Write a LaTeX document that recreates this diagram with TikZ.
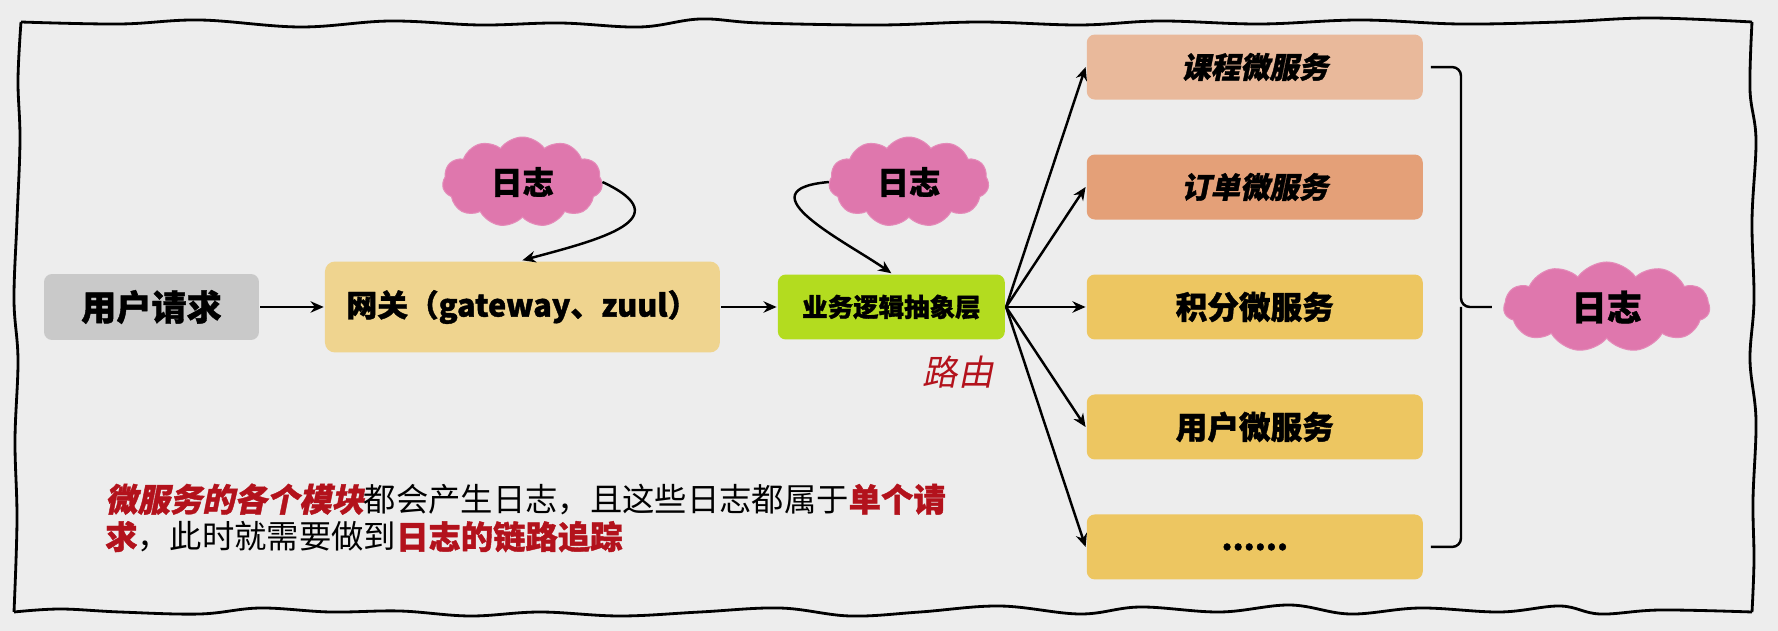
\documentclass[tikz,border=0pt]{standalone}
\usepackage{fontspec}
\setmainfont{Noto Sans CJK SC}[BoldFeatures={FakeBold=1.2}]
\newfontfamily\slantcjk{Noto Sans CJK SC}[FakeSlant=0.2, BoldFeatures={FakeBold=1.2}]
\usepackage{xcolor}
\usepackage{tikz}
\usetikzlibrary{shapes.symbols, positioning, arrows.meta, calc}

\definecolor{bgpaper}{HTML}{EDEDED}
\definecolor{reqgray}{HTML}{C9C9C9}
\definecolor{gwyellow}{HTML}{EFD48F}
\definecolor{bizgreen}{HTML}{B3DC1F}
\definecolor{coursepeach}{HTML}{E9B99B}
\definecolor{orderorange}{HTML}{E4A078}
\definecolor{svcyellow}{HTML}{EDC661}
\definecolor{logpink}{HTML}{DF77AD}
\definecolor{notered}{HTML}{B3121C}

\begin{document}
\begin{tikzpicture}[x=0.02cm, y=0.02cm, node distance=2cm, >={Stealth[length=7.5pt, width=6.5pt]}, line width=1.4pt, text=black,
    boxnode/.style={rectangle, rounded corners=0.16cm, minimum height=1.3cm},
    svc/.style={boxnode, fill=svcyellow, minimum width=6.72cm, font=\fontsize{18}{22}\selectfont\bfseries},
    logcloud/.style={cloud, cloud puffs=11, cloud puff arc=110, aspect=1.8, fill=logpink, draw=logpink!85!white, line width=0.6pt, minimum width=3.2cm, minimum height=1.8cm, font=\fontsize{18}{22}\selectfont\bfseries}]

        % Fondo y marco
        \fill[bgpaper] (0,0) rectangle (1778,-631);
        \useasboundingbox (0,0) rectangle (1778,-631);
        \draw[line width=1.6pt] plot[smooth, tension=0.6] coordinates {(21,-22) (120,-24) (200,-20) (300,-27) (390,-21) (480,-25) (560,-23) (640,-27) (700,-19) (760,-23) (880,-25) (980,-22) (1080,-25) (1160,-21) (1260,-24) (1360,-20) (1460,-24) (1560,-22) (1650,-18) (1752,-22)};
        \draw[line width=1.6pt] plot[smooth, tension=0.6] coordinates {(1752,-22) (1750,-90) (1756,-140) (1752,-220) (1754,-300) (1750,-360) (1756,-420) (1753,-500) (1754,-560) (1752,-612)};
        \draw[line width=1.6pt] plot[smooth, tension=0.6] coordinates {(1752,-612) (1660,-610) (1600,-614) (1560,-606) (1500,-612) (1420,-608) (1350,-614) (1290,-605) (1220,-612) (1140,-607) (1080,-614) (1000,-606) (920,-612) (850,-616) (780,-608) (700,-612) (620,-616) (540,-612) (470,-616) (400,-611) (330,-612) (260,-608) (200,-614) (120,-612) (60,-609) (14,-612)};
        \draw[line width=1.6pt] plot[smooth, tension=0.6] coordinates {(14,-612) (17,-520) (15,-440) (18,-360) (14,-300) (17,-220) (20,-140) (18,-80) (21,-22)};

        % Peticion, gateway y capa de negocio
        \node[boxnode, fill=reqgray, minimum height=1.32cm, minimum width=4.3cm, font=\fontsize{20}{24}\selectfont\bfseries] (req) at (151.5,-307) {用户请求};
        \node[boxnode, rounded corners=0.2cm, fill=gwyellow, minimum height=1.82cm, minimum width=7.9cm, right of=req, node distance=7.42cm, font=\fontsize{17.5}{21}\selectfont\bfseries] (gw) {网关（gateway、zuul）};
        \node[boxnode, fill=bizgreen, minimum width=4.54cm, right of=gw, node distance=7.38cm, font=\fontsize{14.5}{18}\selectfont\bfseries] (biz) {业务逻辑抽象层};
        \node[text=notered, font=\fontsize{20}{24}\selectfont\slantcjk] (route) at (958,-372) {路由};

        % Microservicios
        \node[svc, right of=biz, node distance=7.27cm] (points) {积分微服务};
        \node[svc, fill=orderorange, above of=points, node distance=2.4cm, font=\fontsize{16.7}{20}\selectfont\slantcjk\bfseries] (order) {订单微服务};
        \node[svc, fill=coursepeach, above of=order, node distance=2.4cm, font=\fontsize{16.7}{20}\selectfont\slantcjk\bfseries] (course) {课程微服务};
        \node[svc, below of=points, node distance=2.4cm] (user) {用户微服务};
        \node[svc, below of=user, node distance=2.4cm] (more) {......};

        % Nubes de log
        \node[logcloud, above of=gw, node distance=2.5cm] (log1) {日志};
        \node[logcloud, above of=biz, node distance=2.5cm, xshift=0.35cm] (log2) {日志};
        \node[logcloud, minimum width=4.12cm, aspect=2.3, right of=points, node distance=7.04cm, font=\fontsize{20}{24}\selectfont\bfseries] (log3) {日志};

        % Conexiones
        \draw[->] (req) -- (gw);
        \draw[->] (gw) -- (biz);
        \draw[->] (log1.east) to[out=-25, in=15, out looseness=2, in looseness=1.8] (gw.north);
        \draw[->] (log2.west) to[out=185, in=145, out looseness=2.05, in looseness=1.25] (biz.north);
        \foreach \s in {course, order, points, user, more}
            \draw[->] (biz.east) -- (\s.west);

        % Llave hacia el log
        \draw[rounded corners=5pt] ($(course.east)+(7,0)$) -| ($(points.east)+(37,0)$) -- ($(points.east)+(68,0)$);
        \draw[rounded corners=5pt] ($(more.east)+(7,0)$) -| ($(points.east)+(37,0)$);

        % Nota
        \node[anchor=west, align=left, inner sep=0pt, font=\fontsize{18.4}{21.3}\selectfont] (note) at (104,-518) {\textcolor{notered}{\slantcjk\bfseries 微服务的各个模块}都会产生日志，且这些日志都属于\textcolor{notered}{\bfseries 单个请}\\\textcolor{notered}{\bfseries 求}，此时就需要做到\textcolor{notered}{\bfseries 日志的链路追踪}};

    \end{tikzpicture}
\end{document}
